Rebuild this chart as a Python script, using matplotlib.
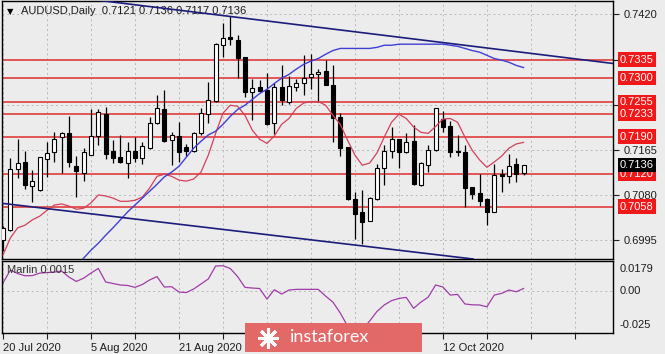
import matplotlib
matplotlib.use("Agg")
import matplotlib.pyplot as plt
import matplotlib.transforms as mtransforms
from matplotlib.patches import Rectangle
from matplotlib.lines import Line2D
import numpy as np
import pandas as pd

# AUDUSD daily, 20 Jul 2020 .. 27 Oct 2020 (72 bars)
opens = [0.6995, 0.7014, 0.7129, 0.7142, 0.7097, 0.7090, 0.7148, 0.7161, 0.7189, 0.7196,
         0.7135, 0.7122, 0.7156, 0.7191, 0.7233, 0.7163, 0.7151, 0.7141, 0.7162, 0.7150,
         0.7169, 0.7215, 0.7241, 0.7183, 0.7191, 0.7171, 0.7163, 0.7196, 0.7233, 0.7257,
         0.7362, 0.7377, 0.7372, 0.7340, 0.7273, 0.7284, 0.7277, 0.7215, 0.7283, 0.7255,
         0.7283, 0.7290, 0.7302, 0.7307, 0.7313, 0.7288, 0.7226, 0.7171, 0.7072, 0.7047,
         0.7031, 0.7072, 0.7131, 0.7162, 0.7185, 0.7161, 0.7181, 0.7098, 0.7137, 0.7164,
         0.7223, 0.7210, 0.7162, 0.7161, 0.7095, 0.7083, 0.7072, 0.7047, 0.7119, 0.7116,
         0.7139, 0.7121]
highs = [0.7021, 0.7149, 0.7185, 0.7163, 0.7127, 0.7152, 0.7179, 0.7199, 0.7199, 0.7228,
         0.7153, 0.7169, 0.7241, 0.7241, 0.7245, 0.7184, 0.7193, 0.7180, 0.7189, 0.7180,
         0.7227, 0.7268, 0.7277, 0.7198, 0.7218, 0.7176, 0.7199, 0.7243, 0.7292, 0.7366,
         0.7404, 0.7418, 0.7382, 0.7340, 0.7299, 0.7296, 0.7310, 0.7290, 0.7325, 0.7305,
         0.7298, 0.7344, 0.7346, 0.7317, 0.7334, 0.7325, 0.7235, 0.7171, 0.7086, 0.7089,
         0.7076, 0.7139, 0.7175, 0.7208, 0.7186, 0.7196, 0.7211, 0.7142, 0.7175, 0.7244,
         0.7238, 0.7220, 0.7193, 0.7174, 0.7095, 0.7119, 0.7074, 0.7138, 0.7129, 0.7158,
         0.7149, 0.7136]
lows = [0.6975, 0.7012, 0.7112, 0.7092, 0.7066, 0.7088, 0.7114, 0.7142, 0.7122, 0.7133,
        0.7077, 0.7107, 0.7155, 0.7174, 0.7147, 0.7141, 0.7140, 0.7111, 0.7142, 0.7139,
        0.7167, 0.7213, 0.7180, 0.7136, 0.7142, 0.7154, 0.7160, 0.7193, 0.7216, 0.7255,
        0.7340, 0.7362, 0.7300, 0.7265, 0.7222, 0.7273, 0.7211, 0.7194, 0.7249, 0.7252,
        0.7275, 0.7269, 0.7280, 0.7255, 0.7287, 0.7180, 0.7154, 0.7070, 0.6997, 0.6988,
        0.7030, 0.7071, 0.7098, 0.7150, 0.7131, 0.7159, 0.7099, 0.7097, 0.7124, 0.7162,
        0.7198, 0.7152, 0.7153, 0.7058, 0.7072, 0.7060, 0.7023, 0.7047, 0.7086, 0.7102,
        0.7105, 0.7117]
closes = [0.7018, 0.7129, 0.7140, 0.7098, 0.7106, 0.7151, 0.7159, 0.7186, 0.7196, 0.7142,
          0.7125, 0.7161, 0.7191, 0.7236, 0.7157, 0.7149, 0.7142, 0.7162, 0.7149, 0.7172,
          0.7215, 0.7243, 0.7182, 0.7193, 0.7161, 0.7162, 0.7197, 0.7235, 0.7258, 0.7365,
          0.7376, 0.7373, 0.7338, 0.7273, 0.7282, 0.7275, 0.7213, 0.7283, 0.7258, 0.7285,
          0.7290, 0.7300, 0.7307, 0.7312, 0.7288, 0.7224, 0.7169, 0.7072, 0.7045, 0.7029,
          0.7075, 0.7130, 0.7162, 0.7185, 0.7161, 0.7180, 0.7100, 0.7140, 0.7164, 0.7243,
          0.7208, 0.7160, 0.7160, 0.7093, 0.7081, 0.7068, 0.7048, 0.7117, 0.7116, 0.7134,
          0.7120, 0.7136]

# moving averages (red = fast, blue = slow, starts at bar 10)
red_ma = [0.6967, 0.6999, 0.7018, 0.7023, 0.7033, 0.7040, 0.7051, 0.7061, 0.7063, 0.7059,
          0.7053, 0.7055, 0.7065, 0.7080, 0.7078, 0.7074, 0.7068, 0.7068, 0.7070, 0.7076,
          0.7093, 0.7115, 0.7119, 0.7115, 0.7108, 0.7106, 0.7110, 0.7123, 0.7155, 0.7196,
          0.7234, 0.7249, 0.7247, 0.7230, 0.7202, 0.7185, 0.7177, 0.7191, 0.7213, 0.7224,
          0.7243, 0.7253, 0.7256, 0.7256, 0.7249, 0.7230, 0.7213, 0.7183, 0.7155, 0.7136,
          0.7140, 0.7159, 0.7189, 0.7217, 0.7232, 0.7224, 0.7208, 0.7198, 0.7196, 0.7209,
          0.7223, 0.7224, 0.7217, 0.7189, 0.7164, 0.7146, 0.7132, 0.7142, 0.7153, 0.7168,
          0.7176, 0.7179]
blue_start = 10
blue_ma = [0.6946, 0.6961, 0.6976, 0.6989, 0.7004, 0.7018, 0.7033, 0.7048, 0.7061, 0.7074,
           0.7087, 0.7100, 0.7114, 0.7123, 0.7134, 0.7151, 0.7168, 0.7181, 0.7193, 0.7200,
           0.7213, 0.7228, 0.7241, 0.7249, 0.7260, 0.7271, 0.7279, 0.7290, 0.7300, 0.7307,
           0.7317, 0.7326, 0.7332, 0.7337, 0.7345, 0.7352, 0.7356, 0.7356, 0.7356, 0.7356,
           0.7356, 0.7358, 0.7362, 0.7362, 0.7364, 0.7364, 0.7364, 0.7364, 0.7364, 0.7364,
           0.7364, 0.7362, 0.7360, 0.7356, 0.7352, 0.7349, 0.7343, 0.7337, 0.7334, 0.7330,
           0.7324, 0.7320]

# "Marlin" oscillator
marlin = [0.0048, 0.0125, 0.0104, 0.0091, 0.0092, 0.0107, 0.0110, 0.0113, 0.0119, 0.0083,
          0.0057, 0.0077, 0.0107, 0.0135, 0.0054, 0.0045, 0.0036, 0.0033, 0.0022, 0.0039,
          0.0066, 0.0086, 0.0024, 0.0026, -0.0006, -0.0009, 0.0012, 0.0042, 0.0072, 0.0149,
          0.0151, 0.0134, 0.0086, 0.0022, 0.0018, 0.0015, -0.0048, 0.0008, -0.0018, 0.0006,
          0.0010, 0.0010, 0.0010, 0.0010, -0.0030, -0.0066, -0.0131, -0.0209, -0.0244, -0.0232,
          -0.0179, -0.0122, -0.0083, -0.0057, -0.0044, -0.0038, -0.0103, -0.0066, -0.0036, 0.0036,
          0.0024, -0.0024, -0.0020, -0.0077, -0.0082, -0.0083, -0.0094, -0.0024, -0.0014, 0.0006,
          -0.0004, 0.0015]

# horizontal levels and hand drawn trend lines (bar, price)
levels = [0.7335, 0.7300, 0.7255, 0.7233, 0.7190, 0.7120, 0.7058]
upper_trend = [(27, 0.7423), (83, 0.7328)]
lower_trend = [(0, 0.7064), (60, 0.6966)]
price_ticks = [0.6995, 0.7080, 0.7165, 0.7250, 0.7335, 0.7420]
price_labels = ['0.6995', '0.7080', '0.7165', '', '', '0.7420']
osc_ticks = [0.0179, 0.00, -0.025]
osc_labels = ['0.0179', '0.00', '-0.025']
last_price = 0.7136
# date labels that are not hidden under the watermark
date_label_bars = [0, 12, 24, 60]

dates = pd.bdate_range('2020-07-20', periods=len(closes))
bars = np.arange(len(closes))

plt.rcParams['font.family'] = ['Liberation Sans', 'DejaVu Sans']
plt.rcParams['font.size'] = 8

W, H = 665, 354
BG = '#ececec'
fig = plt.figure(figsize=(W / 100, H / 100), dpi=100, facecolor=BG)

def box(l, t, r, b):
    return [l / W, 1 - b / H, (r - l) / W, (b - t) / H]

ax = fig.add_axes(box(2, 0.5, 613, 259), facecolor=BG)
ax2 = fig.add_axes(box(2, 261, 613, 333), facecolor=BG, sharex=ax)

grid_kw = dict(color='#b8b8b8', linestyle=(0, (2, 3)), linewidth=0.7)

# --- candles
o, h, l, c = map(np.array, (opens, highs, lows, closes))
up = c >= o
ax.vlines(bars, l, h, color='black', linewidth=0.9, zorder=3)
ax.bar(bars, np.abs(c - o), bottom=np.minimum(o, c), width=0.55,
       color=np.where(up, 'white', 'black'), edgecolor='black', linewidth=0.8, zorder=4)

for lv in levels:
    ax.axhline(lv, color='#e24a4a', linewidth=1.3, zorder=2)

ax.plot(bars, red_ma, color='#d4405c', linewidth=0.9, zorder=5)
ax.plot(bars[blue_start:], blue_ma, color='#3f3fd6', linewidth=1.0, zorder=5)
ax.axline(*upper_trend, color='#1c1c7c', linewidth=1.2, zorder=5)
ax.axline(*lower_trend, color='#1c1c7c', linewidth=1.2, zorder=5)

ax.set_xlim(-0.14, 83.2)
ax.set_ylim(0.69593, 0.74463)
ax.yaxis.tick_right()
ax.set_yticks(price_ticks)
ax.set_yticklabels(price_labels)
ax.tick_params(axis='y', length=4, pad=4, colors='#1e1e1e', direction='out')
ax.tick_params(axis='x', length=0, labelbottom=False)
ax.set_xticks(range(0, 84, 6))
ax.grid(True, **grid_kw)
ax.set_axisbelow(True)

# boxed price labels on the right axis
trans = mtransforms.blended_transform_factory(ax.transAxes, ax.transData)
for lv in levels:
    ax.text(1 + 7 / 611, lv, f'{lv:.4f}', transform=trans, va='center', ha='left',
            color='white', fontsize=8, clip_on=False,
            bbox=dict(boxstyle='square,pad=0.2', fc='#f01818', ec='none'))
ax.text(1 + 7 / 611, last_price, f'{last_price:.4f}', transform=trans, va='center',
        ha='left', color='white', fontsize=8, clip_on=False,
        bbox=dict(boxstyle='square,pad=0.2', fc='black', ec='none'))

ax.text(5 / 611, 1 - 11 / 258.5, '\u25BC', transform=ax.transAxes, fontsize=6,
        va='center', ha='left', family=['DejaVu Sans'])
ax.text(19 / 611, 1 - 11 / 258.5, 'AUDUSD,Daily  0.7121 0.7136 0.7117 0.7136',
        transform=ax.transAxes, fontsize=8, va='center', ha='left', color='#1e1e1e')

# --- oscillator panel
ax2.plot(bars, marlin, color='#a03ca8', linewidth=0.9)
ax2.set_ylim(-0.025, 0.0179)
ax2.set_yticks([0.0])
ax2.set_yticklabels([])
ax2.tick_params(axis='y', length=0)
ax2.grid(True, **grid_kw)
ax2.set_axisbelow(True)
trans2 = mtransforms.blended_transform_factory(ax2.transAxes, ax2.transData)
for val, txt, va, dy in zip(osc_ticks, osc_labels, ['top', 'center', 'bottom'], [-3, 0, 3]):
    ax2.annotate(txt, xy=(1, val), xycoords=trans2, xytext=(7, dy),
                 textcoords='offset pixels', va=va, ha='left', color='#1e1e1e',
                 fontsize=8, annotation_clip=False)
ax2.text(5 / 611, 1 - 9 / 72, 'Marlin 0.0015', transform=ax2.transAxes, fontsize=8,
         va='center', ha='left', color='#303030')

ax2.set_xticks(range(0, 84, 6))
ax2.set_xticklabels([f'{dates[i].day} {dates[i]:%b %Y}' if i in date_label_bars else ''
                     for i in range(0, 84, 6)])
for lab in ax2.get_xticklabels():
    lab.set_horizontalalignment('left')
ax2.tick_params(axis='x', length=4, pad=3, colors='#1e1e1e')

for a in (ax, ax2):
    for s in a.spines.values():
        s.set_color('black')
        s.set_linewidth(1.0)

# --- instaforex watermark
fig.patches.append(Rectangle((245 / W, 1 - 352 / H), 177 / W, 29 / H,
                             transform=fig.transFigure, facecolor='#e36868',
                             edgecolor='none', zorder=10))
fig.add_artist(Line2D([268 / W], [1 - 337.5 / H], transform=fig.transFigure,
                      marker=(8, 2, 0), markersize=15, markeredgewidth=2.2,
                      color='white', zorder=11))
fig.text(290 / W, 1 - 337 / H, 'instaforex', color='white', fontsize=13,
         family=['Lato', 'DejaVu Sans'], va='center', ha='left', zorder=11)

fig.savefig('out.png', dpi=100, facecolor=BG)
